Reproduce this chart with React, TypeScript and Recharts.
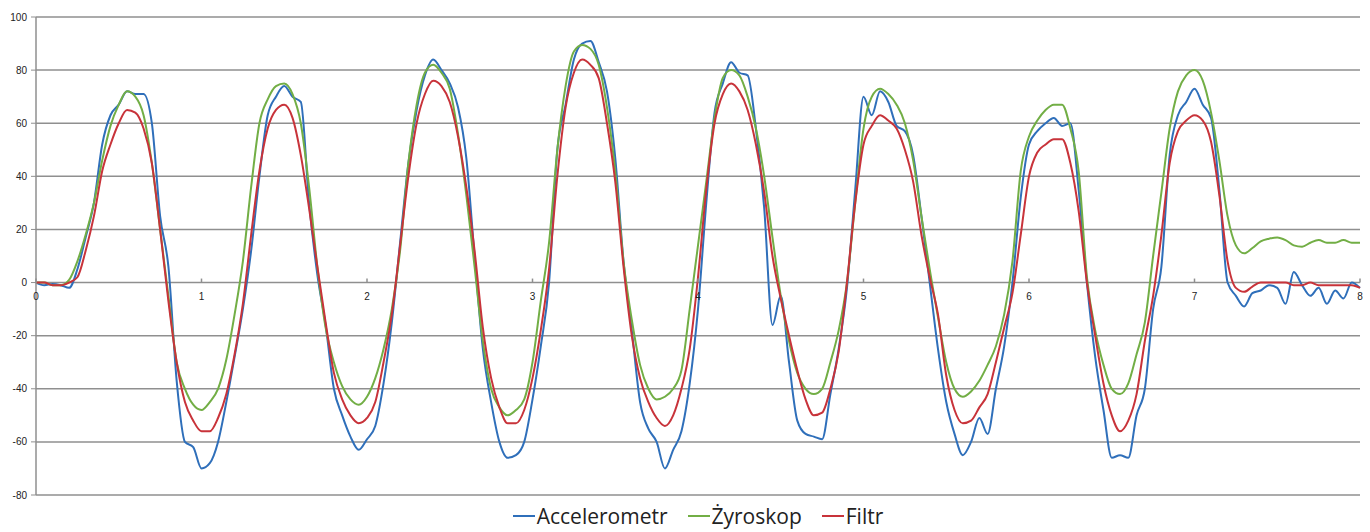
import React from 'react';
import { LineChart, Line, XAxis, YAxis, CartesianGrid, ReferenceDot } from 'recharts';

// sample grid: one reading every 0.05 s, 0 .. 8
const time = Array.from({ length: 161 }, (_, i) => Math.round(i * 5) / 100);

// one row per second (20 samples), last value is t = 8
const accelerometr = [
    0, -1, -0.5, -1, -2, 5, 17, 30, 52, 63, 67, 72, 71, 71, 60, 25, 6, -37, -60, -62,
    -70, -68, -60, -45, -28, -10, 12, 40, 63, 70, 74, 70, 68, 30, 3, -16, -40, -50, -58, -63,
    -59, -54, -38, -15, 15, 45, 65, 78, 84, 80, 75, 66, 47, 10, -25, -45, -60, -66, -65, -60,
    -44, -24, 0, 50, 67, 84, 90, 91, 83, 72, 47, 8, -18, -45, -55, -60, -70, -63, -56, -38,
    -10, 30, 64, 75, 83, 79, 78, 58, 28, -16, -5, -30, -52, -57, -58, -59, -42, -25, -2, 35,
    70, 63, 72, 68, 59, 57, 48, 25, 0, -25, -45, -57, -65, -60, -51, -57, -40, -24, 0, 32,
    52, 57, 60, 62, 59, 60, 35, 0, -28, -48, -66, -65, -66, -50, -40, -10, 6, 48, 63, 68,
    73, 67, 62, 35, 0, -5, -9, -4, -3, -1, -2, -8, 4, -1, -5, -2, -8, -3, -6, 0,
    -2,
];

const zyroskop = [
    0, 0, -1, -1, 1, 8, 18, 30, 46, 59, 67, 72, 70, 63, 45, 20, -5, -30, -40, -46,
    -48, -45, -40, -29, -12, 8, 36, 60, 69, 74, 75, 71, 60, 36, 6, -17, -30, -39, -44, -46,
    -43, -36, -25, -10, 12, 45, 67, 79, 82, 79, 73, 56, 33, 6, -22, -40, -47, -50, -48, -44,
    -30, -7, 15, 50, 74, 87, 89.5, 88, 82, 66, 42, 8, -14, -31, -40, -44, -43, -40, -33, -10,
    14, 38, 62, 77, 80, 78, 70, 58, 40, 17, -5, -22, -34, -40, -42, -40, -30, -18, 0, 30,
    58, 70, 73, 71, 67, 60, 46, 25, 5, -13, -30, -40, -43, -41, -37, -31, -24, -12, 8, 42,
    55, 61, 65, 67, 67, 58, 42, 2, -18, -31, -40, -42, -38, -27, -15, 10, 34, 58, 72, 78,
    80, 76, 64, 46, 25, 14, 11, 13, 15.5, 16.5, 17, 16, 14, 13.5, 15, 16, 15, 15, 16, 15,
    15,
];

const filtr = [
    0, 0, -1, -1, 0, 2, 12, 25, 42, 52, 60, 65, 64, 58, 45, 20, -7, -30, -45, -52,
    -56, -56, -51, -42, -27, -8, 18, 42, 58, 65, 67, 62, 48, 28, 6, -15, -34, -44, -50, -53,
    -51, -45, -30, -12, 14, 40, 60, 71, 76, 74, 68, 55, 36, 12, -17, -36, -47, -53, -53, -48,
    -36, -18, 5, 40, 66, 79, 84, 82, 77, 60, 38, 6, -20, -36, -45, -51, -54, -50, -40, -25,
    2, 35, 60, 71, 75, 72, 65, 52, 34, 10, -6, -20, -33, -44, -50, -49, -40, -26, 0, 30,
    52, 59, 63, 61, 58, 50, 38, 18, 2, -12, -35, -48, -53, -52, -47, -42, -30, -17, -4, 18,
    40, 49, 52, 54, 54, 45, 27, 0, -20, -38, -50, -56, -52, -42, -22, -5, 18, 45, 57, 61,
    63, 61, 53, 33, 8, -2, -3.5, -1.5, 0, 0, 0, 0, -1, -1, 0, -1, -1, -1, -1, -1,
    -2,
];

const xTicks = [0, 1, 2, 3, 4, 5, 6, 7, 8];
const yTicks = [-80, -60, -40, -20, 0, 20, 40, 60, 80, 100];
const seriesNames = ['Accelerometr', 'Żyroskop', 'Filtr'];
const seriesKeys = ['acc', 'gyro', 'filt'];
const colors = ['#2f6fba', '#72ae45', '#c8333a'];

const data = time.map((t, i) => ({
    t,
    acc: accelerometr[i],
    gyro: zyroskop[i],
    filt: filtr[i],
}));

const gridColor = '#8f8f8f';
const labelFont = '"Liberation Sans", Arial, sans-serif';

// excel style: x labels sit on the zero line, not at the bottom
const ZeroTick = (props: any) => {
    const { cx, cy, value } = props;
    return (
        <g>
            <line x1={cx} x2={cx} y1={cy - 4} y2={cy} stroke={gridColor} strokeWidth={1.5} />
            <text x={cx} y={cy + 17} textAnchor="middle" fontSize={10} fill="#222" fontFamily={labelFont}>
                {value}
            </text>
        </g>
    );
};

const App = () => {
    return (
        <div style={{ position: 'absolute', left: 0, top: 0, width: 1370, height: 532, background: '#fff' }}>
            <LineChart
                width={1370}
                height={500}
                data={data}
                margin={{ top: 17, right: 10, left: 0, bottom: 5 }}>
                <CartesianGrid vertical={false} stroke={gridColor} strokeWidth={1.5} />
                <XAxis dataKey="t" type="number" domain={[0, 8]} ticks={xTicks} hide />
                <YAxis
                    domain={[-80, 100]}
                    ticks={yTicks}
                    interval={0}
                    width={36}
                    axisLine={{ stroke: gridColor, strokeWidth: 1.5 }}
                    tickLine={{ stroke: gridColor }}
                    tickSize={5}
                    tickMargin={4}
                    tick={{ fontSize: 10, fill: '#222', fontFamily: labelFont }}
                />
                {xTicks.map((k) => (
                    <ReferenceDot
                        key={k}
                        x={k}
                        y={0}
                        r={0}
                        shape={(p: any) => <ZeroTick {...p} value={k} />}
                    />
                ))}
                {seriesKeys.map((key, i) => (
                    <Line
                        key={key}
                        type="monotone"
                        dataKey={key}
                        name={seriesNames[i]}
                        stroke={colors[i]}
                        strokeWidth={2}
                        dot={false}
                        isAnimationActive={false}
                    />
                ))}
            </LineChart>
            <div
                style={{
                    position: 'absolute',
                    left: 36,
                    top: 502,
                    width: 1324,
                    display: 'flex',
                    justifyContent: 'center',
                    gap: 20,
                    fontFamily: '"Open Sans", sans-serif',
                    fontSize: 21,
                    lineHeight: '28px',
                    color: '#222',
                }}>
                {seriesNames.map((name, i) => (
                    <div key={name} style={{ display: 'flex', alignItems: 'center' }}>
                        <span style={{ width: 22, height: 2, background: colors[i], marginRight: 2 }} />
                        <span>{name}</span>
                    </div>
                ))}
            </div>
        </div>
    );
};

export default App;
